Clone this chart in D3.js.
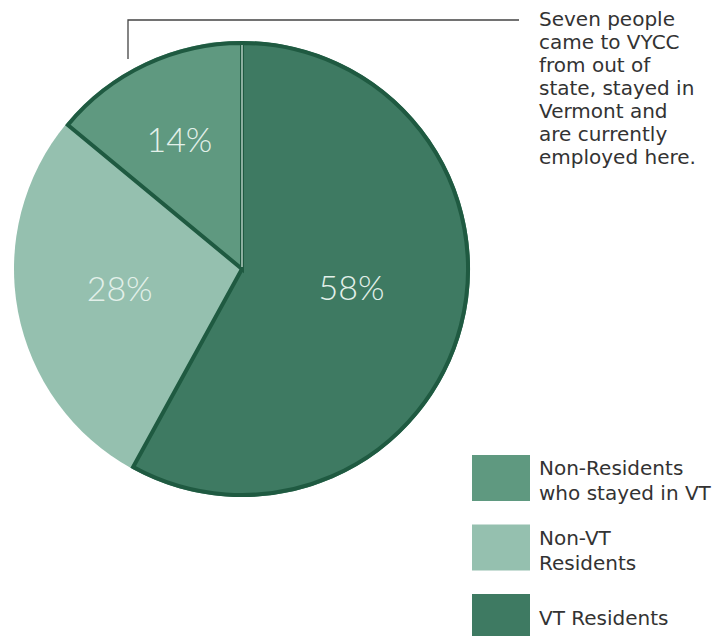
<!DOCTYPE html>
<html>
<head>
<meta charset="utf-8">
<script src="https://cdn.jsdelivr.net/npm/d3@7"></script>
<style>
  body { margin: 0; background: #fff; }
  svg text { font-family: "DejaVu Sans", sans-serif; }
</style>
</head>
<body>
<div id="chart"></div>
<script>
// data
const categories = ["VT Residents", "Non-VT Residents", "Non-Residents who stayed in VT"];
const shares = [58, 28, 14];
const legendOrder = ["Non-Residents who stayed in VT", "Non-VT Residents", "VT Residents"];
const legendLines = [["Non-Residents", "who stayed in VT"], ["Non-VT", "Residents"], ["VT Residents"]];
const noteLines = ["Seven people", "came to VYCC", "from out of", "state, stayed in", "Vermont and", "are currently", "employed here."];

//---------------------------SPACE SETUP---------------------------------
const width = 727, height = 636;
const cx = 242, cy = 269, radius = 228;

const color = d3.scaleOrdinal()
    .domain(categories)
    .range(["#3e7a62", "#95c0af", "#5f9980"]);
const outlined = { "VT Residents": true, "Non-Residents who stayed in VT": true };
// label placement: radius and angle nudge (radians) per slice
const labelRadius = [111, 124, 144];
const labelNudge = [-0.084, 0.026, -0.01];

const svg = d3.select("#chart").append("svg")
    .attr("width", width)
    .attr("height", height);

//---------------------------PIE---------------------------------
const pie = d3.pie().sort(null).value(d => d)(shares);
const arc = d3.arc().innerRadius(0).outerRadius(radius);
const strokeArc = d3.arc().innerRadius(0).outerRadius(radius - 2);

const g = svg.append("g").attr("transform", `translate(${cx}, ${cy})`);

g.selectAll("path.slice")
    .data(pie)
    .enter().append("path")
        .attr("class", "slice")
        .attr("d", arc)
        .attr("fill", (d, i) => color(categories[i]));

// dark outlines
g.selectAll("path.outline")
    .data(pie.filter((d, i) => outlined[categories[i]]))
    .enter().append("path")
        .attr("class", "outline")
        .attr("d", strokeArc)
        .attr("fill", "none")
        .attr("stroke", "#1f5a41")
        .attr("stroke-width", 4)
        .attr("stroke-linejoin", "miter");

// thin light seam at the start angle
const seamEnd = d3.pointRadial(pie[0].startAngle, radius - 4);
g.append("line")
    .attr("x1", 0).attr("y1", -2)
    .attr("x2", seamEnd[0]).attr("y2", seamEnd[1])
    .attr("stroke", "#d9e9e1")
    .attr("stroke-width", 1.2);

// percentage labels
g.selectAll("text.pct")
    .data(pie)
    .enter().append("text")
        .attr("class", "pct")
        .attr("transform", (d, i) => {
            const a = (d.startAngle + d.endAngle) / 2 + labelNudge[i];
            const p = d3.pointRadial(a, labelRadius[i]);
            return `translate(${p[0]}, ${p[1]})`;
        })
        .attr("text-anchor", "middle")
        .attr("dy", "0.36em")
        .style("font-family", "Lato, sans-serif")
        .style("font-weight", 300)
        .style("font-size", "34px")
        .attr("fill", "#e3f0ea")
        .text(d => d.data + "%");

//---------------------------ANNOTATION---------------------------------
svg.append("path")
    .attr("d", "M128,59 V20 H519")
    .attr("fill", "none")
    .attr("stroke", "#444")
    .attr("stroke-width", 1.3);

svg.append("text")
    .attr("x", 539)
    .attr("y", 26)
    .style("font-size", "20px")
    .attr("fill", "#333")
    .selectAll("tspan")
    .data(noteLines)
    .enter().append("tspan")
        .attr("x", 539)
        .attr("dy", (d, i) => i === 0 ? 0 : 23)
        .text(d => d);

//---------------------------LEGEND---------------------------------
const legend = svg.selectAll("g.legend")
    .data(legendOrder)
    .enter().append("g")
        .attr("class", "legend")
        .attr("transform", (d, i) => `translate(472, ${455 + i * 69.5})`);

legend.append("rect")
    .attr("width", 58)
    .attr("height", 46)
    .attr("fill", d => color(d));

legend.append("text")
    .attr("x", 67)
    .attr("y", 20)
    .style("font-size", "20px")
    .attr("fill", "#333")
    .each(function(d, i) {
        const lines = legendLines[i];
        const t = d3.select(this);
        if (lines.length === 1) t.attr("y", 31);
        t.selectAll("tspan")
            .data(lines)
            .enter().append("tspan")
                .attr("x", 67)
                .attr("dy", (l, j) => j === 0 ? 0 : 25)
                .text(l => l);
    });
</script>
</body>
</html>
